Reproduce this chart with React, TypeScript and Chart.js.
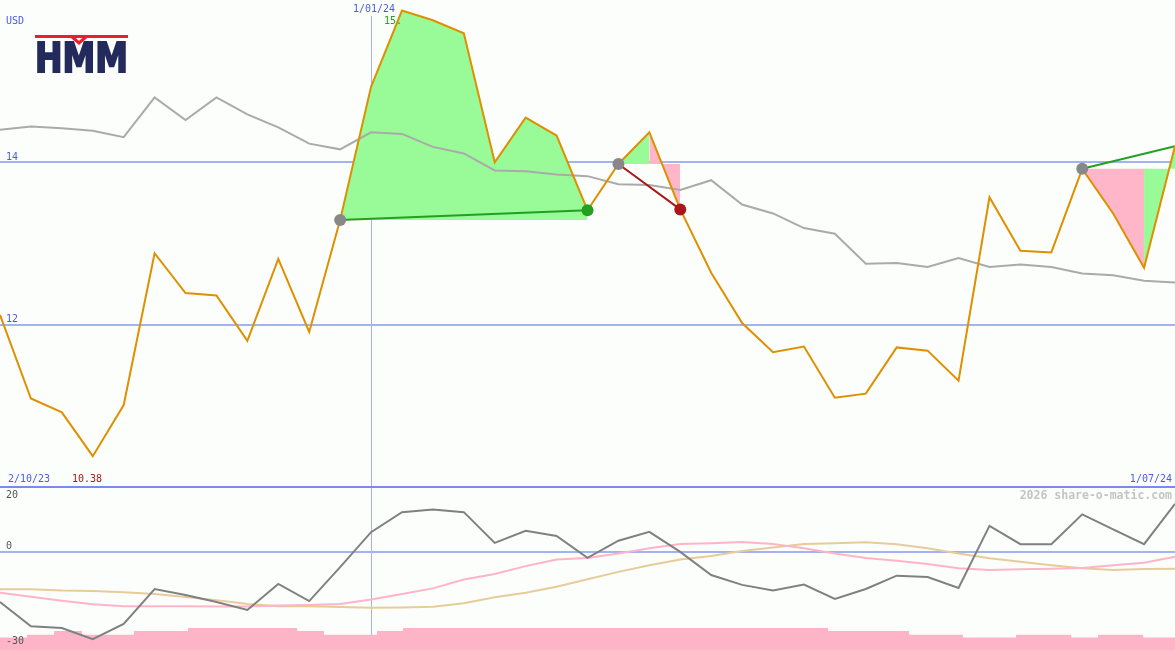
import React, { useEffect, useRef } from "react";
import { Chart, registerables } from "chart.js";
Chart.register(...registerables);

// ---------- data ----------
const currency = "USD";
const dateLabels = ["2/10/23", "1/01/24", "1/07/24"];
const markerIndex = 12;
const lowLabel = "10.38";
const highLabel = "15.";
const watermark = "2026 share-o-matic.com";
const logoText = "HMM";
const priceTicks = [14, 12];
const oscTicks = [20, 0, -30];

const price = [12.12, 11.09, 10.92, 10.38, 11.01, 12.88, 12.39, 12.36, 11.8, 12.81, 11.91, 13.29, 14.93, 15.87, 15.75, 15.59, 14.0, 14.55, 14.33, 13.41, 13.98, 14.37, 13.42, 12.64, 12.02, 11.66, 11.73, 11.1, 11.15, 11.72, 11.68, 11.31, 13.57, 12.91, 12.89, 13.92, 13.37, 12.7, 14.2];
const average = [14.4, 14.44, 14.42, 14.39, 14.31, 14.8, 14.52, 14.8, 14.59, 14.43, 14.23, 14.16, 14.37, 14.35, 14.19, 14.11, 13.9, 13.89, 13.85, 13.83, 13.73, 13.72, 13.66, 13.78, 13.48, 13.37, 13.19, 13.12, 12.75, 12.76, 12.71, 12.82, 12.71, 12.74, 12.71, 12.63, 12.61, 12.54, 12.52];
const oscillator = [-15.9, -23.5, -24.1, -27.6, -22.8, -11.8, -13.7, -15.9, -18.4, -10.2, -15.6, -4.9, 6.1, 12.4, 13.2, 12.4, 2.7, 6.5, 4.9, -2.0, 3.4, 6.2, -0.1, -7.4, -10.5, -12.3, -10.4, -14.9, -11.8, -7.6, -8.0, -11.5, 8.1, 2.3, 2.3, 11.7, 7.0, 2.3, 15.0];
const oscFast = [-13.0, -14.2, -15.5, -16.6, -17.2, -17.2, -17.2, -17.3, -17.3, -17.0, -16.8, -16.5, -15.1, -13.4, -11.6, -8.8, -7.1, -4.6, -2.5, -2.0, -0.6, 1.0, 2.4, 2.6, 3.0, 2.4, 1.0, -0.6, -2.0, -2.9, -3.9, -5.3, -5.8, -5.6, -5.4, -5.2, -4.3, -3.5, -1.6];
const oscSlow = [-11.9, -11.9, -12.3, -12.4, -12.8, -13.4, -14.3, -15.3, -16.5, -17.2, -17.2, -17.5, -17.7, -17.6, -17.4, -16.3, -14.4, -13.0, -11.1, -8.7, -6.4, -4.3, -2.5, -1.4, 0.2, 1.3, 2.4, 2.6, 2.9, 2.3, 1.0, -0.6, -2.1, -3.2, -4.3, -5.3, -5.8, -5.5, -5.4];
const volumeStarts = [0, 0.87, 1.75, 2.65, 4.33, 6.08, 9.61, 10.48, 12.19, 13.03, 26.78, 29.4, 31.14, 32.86, 34.64, 35.51, 36.97];
const volumeLevels = [-27.1, -26.2, -25.0, -26.2, -25.0, -24.1, -25.0, -26.2, -25.0, -24.1, -25.0, -26.2, -27.1, -26.2, -27.1, -26.2, -27.1];

// fill zones
const zoneFrom = [11, 20, 21, 35, 37];
const zoneTo = [19, 21, 22, 37, 38];
const zoneBase = [11, 20, 20, 35, 35];
const zoneKind = ["up", "up", "down", "down", "up"];
// trend lines
const trendFrom = [11, 20, 35];
const trendTo = [19, 22, 38];
const trendKind = ["up", "down", "up"];
const startDots = [11, 20, 35];
const upDots = [19];
const downDots = [22];

// ---------- styles ----------
const BG = "#fcfefc";
const BLUE_TXT = "#4b5be6";
const GRID = "#a3b2f2";
const SEP = "#7a8af0";
const ORANGE = "#de9000";
const GREY = "#aaaaaa";
const GREEN_FILL = "#98fb98";
const PINK_FILL = "#ffb6c8";
const GREEN = "#22a022";
const DARKRED = "#a81818";
const FONT = '10px "DejaVu Sans Mono"';
const W = 1175;
const TOP_H = 487;
const BOT_H = 162;
const X_MAX = price.length - 1;

const pts = (arr: number[], a = 0, b = arr.length - 1) => {
  const out: { x: number; y: number }[] = [];
  for (let i = a; i <= b; i++) out.push({ x: i, y: arr[i] });
  return out;
};

function TopChart() {
  const ref = useRef<HTMLCanvasElement>(null);
  useEffect(() => {
    const datasets: any[] = [];
    zoneFrom.forEach((f, k) => {
      datasets.push({
        data: pts(price, f, zoneTo[k]),
        borderWidth: 0,
        pointRadius: 0,
        backgroundColor: zoneKind[k] === "up" ? GREEN_FILL : PINK_FILL,
        fill: { value: price[zoneBase[k]] },
        order: 20,
      });
    });
    datasets.push({ data: pts(average), borderColor: GREY, borderWidth: 2, pointRadius: 0, fill: false, order: 10 });
    trendFrom.forEach((f, k) => {
      datasets.push({
        data: [{ x: f, y: price[f] }, { x: trendTo[k], y: price[trendTo[k]] }],
        borderColor: trendKind[k] === "up" ? GREEN : DARKRED,
        borderWidth: 2,
        pointRadius: 0,
        fill: false,
        order: 6,
      });
    });
    datasets.push({ data: pts(price), borderColor: ORANGE, borderWidth: 2, pointRadius: 0, fill: false, order: 4 });
    const dot = (idx: number[], color: string) => ({
      data: idx.map((i) => ({ x: i, y: price[i] })),
      showLine: false,
      pointRadius: 6,
      pointBorderWidth: 0,
      pointBackgroundColor: color,
      order: 1,
    });
    datasets.push(dot(startDots, "#888888"));
    datasets.push(dot(upDots, GREEN));
    datasets.push(dot(downDots, DARKRED));

    const chart = new Chart(ref.current!, {
      type: "line",
      data: { datasets },
      options: {
        animation: false,
        responsive: false,
        events: [],
        layout: { padding: 0, autoPadding: false },
        plugins: { legend: { display: false }, tooltip: { enabled: false } },
        scales: {
          x: { type: "linear", min: 0, max: X_MAX, display: false },
          y: { min: 10, max: 16, display: false },
        },
      },
      plugins: [
        {
          id: "topDeco",
          beforeDatasetsDraw(c: any) {
            const ctx = c.ctx;
            const xs = c.scales.x;
            const ys = c.scales.y;
            ctx.save();
            ctx.strokeStyle = GRID;
            ctx.lineWidth = 2;
            priceTicks.forEach((t) => {
              const py = Math.round(ys.getPixelForValue(t));
              ctx.beginPath();
              ctx.moveTo(0, py);
              ctx.lineTo(c.width, py);
              ctx.stroke();
            });
            ctx.lineWidth = 1;
            const mx = Math.round(xs.getPixelForValue(markerIndex)) + 0.5;
            ctx.beginPath();
            ctx.moveTo(mx, 16);
            ctx.lineTo(mx, c.height);
            ctx.stroke();
            ctx.restore();
          },
          afterDraw(c: any) {
            const ctx = c.ctx;
            const xs = c.scales.x;
            const ys = c.scales.y;
            ctx.save();
            ctx.font = FONT;
            ctx.textBaseline = "middle";
            ctx.textAlign = "left";
            ctx.fillStyle = BLUE_TXT;
            ctx.fillText(currency, 6, 21);
            priceTicks.forEach((t) => ctx.fillText(String(t), 6, ys.getPixelForValue(t) - 5));
            const mx = xs.getPixelForValue(markerIndex);
            ctx.textAlign = "center";
            ctx.fillText(dateLabels[1], mx + 3, 9);
            ctx.textAlign = "left";
            ctx.fillStyle = GREEN;
            ctx.fillText(highLabel, mx + 13, 21);
            const by = c.height - 8;
            ctx.fillStyle = BLUE_TXT;
            ctx.fillText(dateLabels[0], 8, by);
            ctx.fillStyle = DARKRED;
            ctx.fillText(lowLabel, 72, by);
            ctx.fillStyle = BLUE_TXT;
            ctx.textAlign = "right";
            ctx.fillText(dateLabels[2], c.width - 3, by);

            // logo
            ctx.fillStyle = "#e8202a";
            ctx.fillRect(35, 35, 93, 3);
            ctx.strokeStyle = "#e8202a";
            ctx.lineWidth = 3;
            ctx.beginPath();
            ctx.moveTo(71, 36);
            ctx.lineTo(79, 43);
            ctx.lineTo(87, 36);
            ctx.stroke();
            ctx.font = 'bold 40px "DejaVu Sans"';
            ctx.textAlign = "left";
            ctx.textBaseline = "alphabetic";
            const m = ctx.measureText(logoText);
            const sx = 93 / m.width;
            const sy = 31 / (m.actualBoundingBoxAscent || 29);
            ctx.translate(35, 72);
            ctx.scale(sx, sy);
            ctx.fillStyle = "#232a5c";
            ctx.strokeStyle = "#232a5c";
            ctx.lineWidth = 2;
            ctx.fillText(logoText, 0, 0);
            ctx.strokeText(logoText, 0, 0);
            ctx.restore();
          },
        },
      ],
    } as any);
    return () => chart.destroy();
  }, []);
  return <canvas ref={ref} width={W} height={TOP_H} style={{ position: "absolute", left: 0, top: 0, width: W, height: TOP_H }} />;
}

function BottomChart() {
  const ref = useRef<HTMLCanvasElement>(null);
  useEffect(() => {
    const vol = volumeStarts.map((x, k) => ({ x, y: volumeLevels[k] }));
    vol.push({ x: X_MAX, y: volumeLevels[volumeLevels.length - 1] });
    const chart = new Chart(ref.current!, {
      type: "line",
      data: {
        datasets: [
          { data: vol, stepped: "before", borderWidth: 0, pointRadius: 0, backgroundColor: "#fdb4c6", fill: "start", order: 20 },
          { data: pts(oscSlow), borderColor: "#e6cc98", borderWidth: 2, pointRadius: 0, fill: false, order: 6 },
          { data: pts(oscFast), borderColor: "#ffb4c8", borderWidth: 2, pointRadius: 0, fill: false, order: 5 },
          { data: pts(oscillator), borderColor: "#808080", borderWidth: 2, pointRadius: 0, fill: false, order: 2 },
        ],
      },
      options: {
        animation: false,
        responsive: false,
        events: [],
        layout: { padding: 0, autoPadding: false },
        plugins: { legend: { display: false }, tooltip: { enabled: false } },
        scales: {
          x: { type: "linear", min: 0, max: X_MAX, display: false },
          y: { min: -31, max: 20, display: false },
        },
      },
      plugins: [
        {
          id: "botDeco",
          beforeDatasetsDraw(c: any) {
            const ctx = c.ctx;
            const xs = c.scales.x;
            const ys = c.scales.y;
            ctx.save();
            ctx.strokeStyle = GRID;
            ctx.lineWidth = 2;
            const zy = Math.round(ys.getPixelForValue(0));
            ctx.beginPath();
            ctx.moveTo(0, zy);
            ctx.lineTo(c.width, zy);
            ctx.stroke();
            ctx.lineWidth = 1;
            const mx = Math.round(xs.getPixelForValue(markerIndex)) + 0.5;
            ctx.beginPath();
            ctx.moveTo(mx, 0);
            ctx.lineTo(mx, c.height);
            ctx.stroke();
            ctx.restore();
          },
          afterDraw(c: any) {
            const ctx = c.ctx;
            const ys = c.scales.y;
            ctx.save();
            ctx.font = FONT;
            ctx.textBaseline = "middle";
            ctx.textAlign = "left";
            ctx.fillStyle = "#555555";
            oscTicks.forEach((t) => {
              const py = t === oscTicks[0] ? ys.getPixelForValue(t) + 7 : ys.getPixelForValue(t) - 5;
              ctx.fillText(String(t), 6, py);
            });
            ctx.font = 'bold 11.5px "DejaVu Sans Mono"';
            ctx.fillStyle = "#c4c4c4";
            ctx.textAlign = "right";
            ctx.fillText(watermark, c.width - 3, 8);
            ctx.restore();
          },
        },
      ],
    } as any);
    return () => chart.destroy();
  }, []);
  return <canvas ref={ref} width={W} height={BOT_H} style={{ position: "absolute", left: 0, top: TOP_H + 1, width: W, height: BOT_H }} />;
}

export default function App() {
  return (
    <div style={{ position: "absolute", left: 0, top: 0, width: W, height: 650, background: BG, overflow: "hidden" }}>
      <TopChart />
      <BottomChart />
      <div style={{ position: "absolute", left: 0, top: TOP_H - 1, width: W, height: 2, background: SEP }} />
    </div>
  );
}
